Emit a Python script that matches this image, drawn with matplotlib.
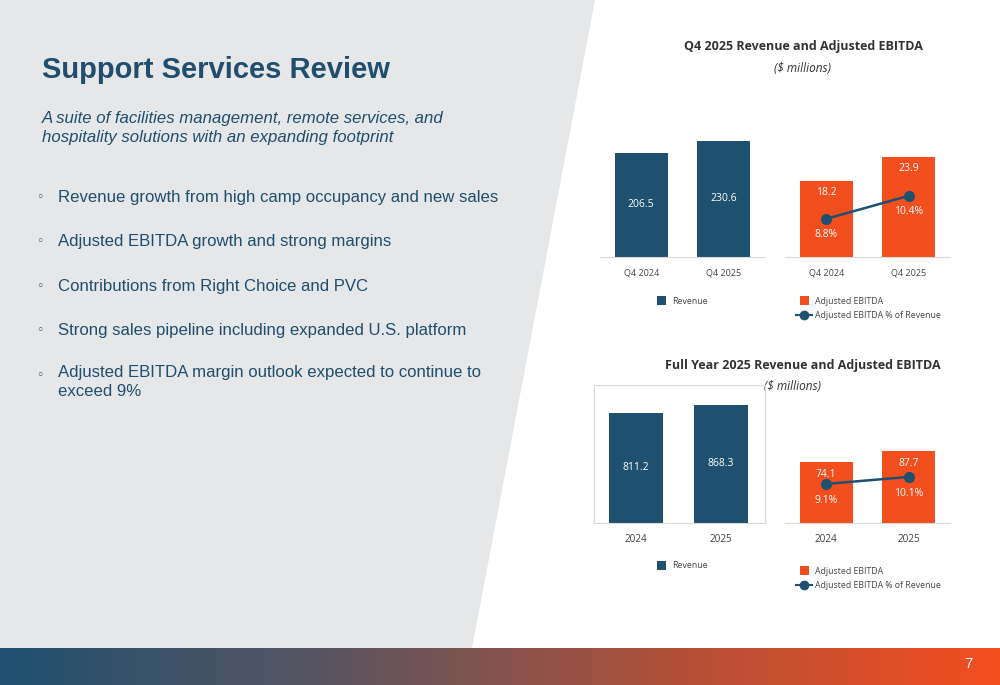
import numpy as np
import matplotlib.pyplot as plt
from matplotlib.patches import Polygon, Rectangle
from matplotlib.colors import LinearSegmentedColormap

# data
q4_periods = ['Q4 2024', 'Q4 2025']
q4_revenue = [206.5, 230.6]
q4_ebitda = [18.2, 23.9]
q4_margin = [8.8, 10.4]

fy_periods = ['2024', '2025']
fy_revenue = [811.2, 868.3]
fy_ebitda = [74.1, 87.7]
fy_margin = [9.1, 10.1]

bullets = [
    'Revenue growth from high camp occupancy and new sales',
    'Adjusted EBITDA growth and strong margins',
    'Contributions from Right Choice and PVC',
    'Strong sales pipeline including expanded U.S. platform',
    'Adjusted EBITDA margin outlook expected to continue to\nexceed 9%',
]

NAVY = '#1f5070'
ORANGE = '#f24e1e'
TXT = '#1f4e6e'
W, H = 1000, 685

fig = plt.figure(figsize=(10, 6.85), dpi=100)
plt.rcParams['font.family'] = ['Liberation Sans', 'DejaVu Sans']

def fx(x): return x / W
def fy(y): return 1 - y / H

# background
bg = fig.add_axes([0, 0, 1, 1])
bg.axis('off')
bg.add_patch(Polygon([(0, 0), (595, 0), (472, 648), (0, 648)], color='#e6e7e8', lw=0))
grad = np.linspace(0, 1, 256).reshape(1, -1)
cm = LinearSegmentedColormap.from_list('g', ['#1f5070', '#5a5560', '#b0503a', '#f24e1e'])
bg.imshow(grad, cmap=cm, extent=[0, W, 685, 648], aspect='auto')
bg.set_xlim(0, W); bg.set_ylim(H, 0)
bg.text(968, 664, '7', color='white', fontsize=11, ha='center', va='center')

bg.text(42, 70, 'Support Services Review', fontsize=21, fontweight='bold', color=TXT, va='center')
bg.text(42, 128, 'A suite of facilities management, remote services, and\nhospitality solutions with an expanding footprint',
        fontsize=12.1, style='italic', color=TXT, va='center', linespacing=1.4)
for i, b in enumerate(bullets):
    y = 197 + i * 44.5
    bg.text(36, y, '◦', fontsize=9, color=TXT, va='center', family='DejaVu Sans')
    if '\n' in b:
        bg.text(58, y - 10, b, fontsize=12.1, color=TXT, va='top', linespacing=1.3)
    else:
        bg.text(58, y, b, fontsize=12.1, color=TXT, va='center')

OS = 'Open Sans'
LEG = 6.3

def sq(x, y, c):
    bg.add_patch(Rectangle((x, y - 5), 9, 9, color=c, lw=0))

def chart(top, bottom, periods, rev, ebit, marg, rlim, elim, plim, title_y, title, sub_x, sub_y,
          framed, leg_y, leg_y2, tick_fs):
    h = (bottom - top) / H
    if framed:
        ax1 = fig.add_axes([fx(594), fy(bottom), 171 / W, h])
        ax1.set_xlim(-0.494, 1.518)
        bw = 0.635
    else:
        ax1 = fig.add_axes([fx(600), fy(bottom), 165 / W, h])
        ax1.set_xlim(-0.5, 1.5)
        bw = 0.64
    x = np.arange(2)
    ax1.bar(x, rev, width=bw, color=NAVY)
    ax1.set_ylim(0, rlim)
    for xi, v in zip(x, rev):
        ax1.text(xi, v * 0.5, f'{v:.1f}', color='white', ha='center', va='center', fontsize=7.5, family=OS)
    ax2 = fig.add_axes([fx(785), fy(bottom), 165 / W, h])
    ax2.bar(x, ebit, width=0.64, color=ORANGE)
    ax2.set_xlim(-0.5, 1.5); ax2.set_ylim(0, elim)
    for xi, v in zip(x, ebit):
        ax2.text(xi, v - elim * 0.09, f'{v:.1f}', color='white', ha='center', va='center', fontsize=7.5, family=OS)
    ax3 = ax2.twinx()
    ax3.plot(x, marg, color=NAVY, lw=1.8, marker='o', ms=7)
    ax3.set_ylim(*plim)
    ax3.axis('off')
    for xi, v in zip(x, marg):
        ax3.text(xi, v - (plim[1] - plim[0]) * 0.12, f'{v:.1f}%', color='white', ha='center', va='center',
                 fontsize=7.5, family=OS)
    for a in (ax1, ax2):
        a.set_xticks(x)
        a.set_xticklabels(periods, fontsize=tick_fs, color='#444444', family=OS)
        a.tick_params(length=0, pad=8)
        a.set_yticks([])
        for s in a.spines.values():
            s.set_visible(False)
        a.spines['bottom'].set_visible(True)
        a.spines['bottom'].set_color('#d9d9d9')
        a.set_facecolor('none')
    if framed:
        for s in ax1.spines.values():
            s.set_visible(True); s.set_color('#d9d9d9')
    bg.text(803, title_y, title, fontsize=9, fontweight='bold', color='#333333', ha='center', va='center', family=OS)
    bg.text(sub_x, sub_y, '($ millions)', fontsize=8.5, style='italic', color='#333333', ha='center', va='center',
            family=OS)
    sq(657, leg_y, NAVY)
    bg.text(672, leg_y, 'Revenue', fontsize=LEG, color='#444444', va='center', family=OS)
    sq(800, leg_y2, ORANGE)
    bg.text(815, leg_y2, 'Adjusted EBITDA', fontsize=LEG, color='#444444', va='center', family=OS)
    bg.plot([796, 812], [leg_y2 + 14, leg_y2 + 14], color=NAVY, lw=1.5)
    bg.plot([804], [leg_y2 + 14], 'o', color=NAVY, ms=6)
    bg.text(815, leg_y2 + 14, 'Adjusted EBITDA % of Revenue', fontsize=LEG, color='#444444', va='center', family=OS)

chart(130, 257, q4_periods, q4_revenue, q4_ebitda, q4_margin, 252, 30.4, (6.15, 14.97),
      46, 'Q4 2025 Revenue and Adjusted EBITDA', 803, 68, False, 301, 301, 6.5)
chart(385, 523, fy_periods, fy_revenue, fy_ebitda, fy_margin, 1015, 168, (3.53, 23.2),
      365, 'Full Year 2025 Revenue and Adjusted EBITDA', 793, 386, True, 566, 571, 7.2)

fig.savefig('out.png', dpi=100)
